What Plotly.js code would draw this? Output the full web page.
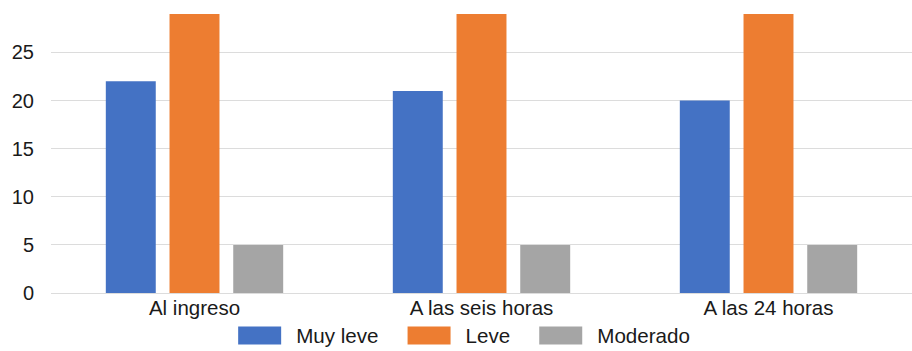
<!DOCTYPE html>
<html>
<head>
<meta charset="utf-8">
<script src="https://cdn.plot.ly/plotly-3.0.1.min.js"></script>
<style>
  html, body { margin: 0; padding: 0; background: #ffffff; }
  #chart { width: 912px; height: 351px; }
</style>
</head>
<body>
<div id="chart"></div>
<script>
// Categories and series values
const categories = ['Al ingreso', 'A las seis horas', 'A las 24 horas'];
const muyLeve = [22, 21, 20];
const leve = [29, 29, 29];
const moderado = [5, 5, 5];
const yTicks = [0, 5, 10, 15, 20, 25];

const seriesNames = ['Muy leve', 'Leve', 'Moderado'];
const seriesColors = ['#4472C4', '#ED7D31', '#A5A5A5'];
const seriesValues = [muyLeve, leve, moderado];

const traces = seriesValues.map((vals, i) => ({
  type: 'bar',
  x: categories,
  y: vals,
  name: seriesNames[i],
  marker: { color: seriesColors[i], line: { width: 0 } },
  hoverinfo: 'x+y+name'
}));

const layout = {
  width: 912,
  height: 351,
  margin: { l: 51, r: 0, t: 8, b: 58, autoexpand: false },
  paper_bgcolor: '#ffffff',
  plot_bgcolor: '#ffffff',
  font: { family: 'Liberation Sans, Arial, sans-serif', size: 20, color: '#1a1a1a' },
  barmode: 'group',
  bargap: 0.334,
  bargroupgap: 0.216,
  showlegend: true,
  legend: {
    orientation: 'h',
    x: 0.1895,
    xanchor: 'left',
    y: -0.079,
    yanchor: 'top',
    itemwidth: 72,
    font: { size: 20.6, color: '#1a1a1a' },
    bgcolor: 'rgba(0,0,0,0)'
  },
  xaxis: {
    type: 'category',
    showgrid: false,
    showline: false,
    zeroline: false,
    ticks: '',
    ticklabelstandoff: 0,
    tickfont: { size: 20.5, color: '#1a1a1a' }
  },
  yaxis: {
    range: [0, 29.62],
    tickvals: yTicks,
    ticktext: yTicks.map(String),
    showgrid: true,
    gridcolor: '#dcdcdc',
    gridwidth: 1,
    zeroline: true,
    zerolinecolor: '#dcdcdc',
    zerolinewidth: 1,
    showline: false,
    ticks: '',
    ticklabelstandoff: 16,
    tickfont: { size: 20, color: '#1a1a1a' }
  }
};

Plotly.newPlot('chart', traces, layout, { displayModeBar: false, staticPlot: true }).then(gd => {
  // widen the legend swatches into flat rectangles set left of the labels
  gd.querySelectorAll('.legend .legendpoints path').forEach(p => {
    p.setAttribute('d', 'M-17,-9H26V9H-17Z');
  });
});
</script>
</body>
</html>
